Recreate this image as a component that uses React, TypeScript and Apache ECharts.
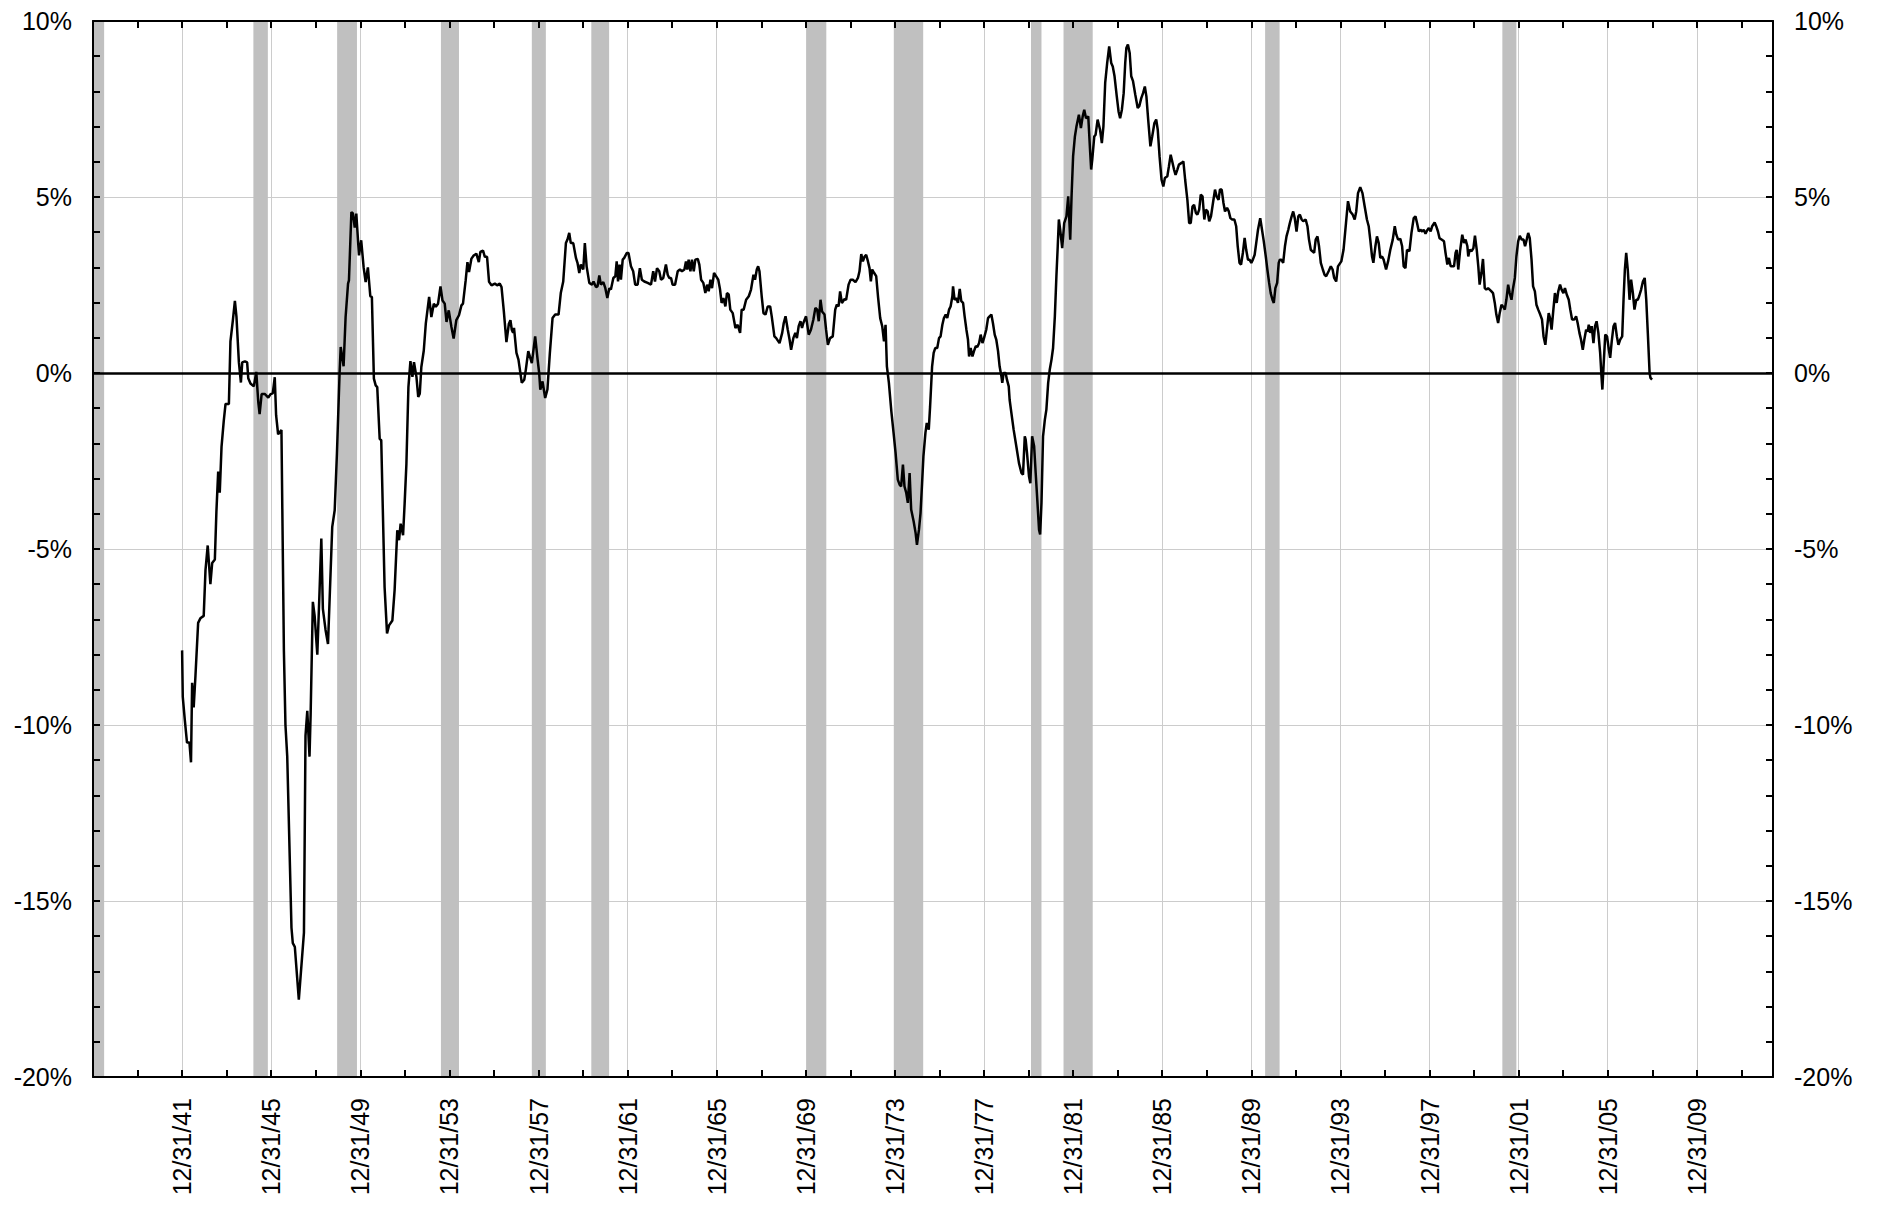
import React, { useEffect, useRef } from "react";
import * as echarts from "echarts";

// Real rate series (percent), [decimal year, value]
const rate1940s: [number, number][] = [
  [1942.0, -7.88], [1942.03, -9.2], [1942.12, -9.85], [1942.22, -10.5], [1942.33, -10.5], [1942.4, -11.06],
  [1942.45, -8.8], [1942.52, -9.5], [1942.6, -8.6], [1942.72, -7.1], [1942.82, -6.97], [1942.97, -6.9],
  [1943.05, -5.6], [1943.15, -4.9], [1943.27, -6.0], [1943.35, -5.4], [1943.47, -5.3], [1943.54, -3.94],
  [1943.62, -2.8], [1943.69, -3.4], [1943.77, -2.1], [1943.87, -1.36], [1943.95, -0.88], [1944.1, -0.88],
  [1944.17, 0.9], [1944.28, 1.5], [1944.37, 2.05], [1944.44, 1.6], [1944.55, 0.3], [1944.64, -0.27],
  [1944.7, 0.3], [1944.82, 0.33], [1944.92, 0.3], [1944.97, -0.15], [1945.07, -0.3], [1945.22, -0.38],
  [1945.33, 0.03], [1945.42, -0.83], [1945.48, -1.17], [1945.57, -0.6], [1945.72, -0.6], [1945.87, -0.7],
  [1945.97, -0.6], [1946.07, -0.58], [1946.16, -0.12], [1946.22, -1.2], [1946.31, -1.74], [1946.46, -1.62],
  [1946.57, -7.9], [1946.64, -10.0], [1946.72, -10.9], [1946.91, -15.76], [1946.97, -16.2], [1947.06, -16.3],
  [1947.24, -17.8], [1947.47, -15.9], [1947.54, -10.3], [1947.62, -9.6], [1947.72, -10.9], [1947.77, -9.7],
  [1947.87, -6.5], [1947.95, -6.9], [1948.07, -8.0], [1948.17, -6.2], [1948.25, -4.7], [1948.32, -6.7],
  [1948.44, -7.3], [1948.55, -7.7], [1948.74, -4.37], [1948.85, -3.9], [1948.95, -2.3], [1949.07, 0],
  [1949.12, 0.74], [1949.25, 0.19], [1949.34, 1.59], [1949.45, 2.54], [1949.49, 2.63], [1949.6, 4.57],
  [1949.67, 4.53], [1949.75, 4.13], [1949.82, 4.53], [1949.94, 3.34],
];

const rate1950s: [number, number][] = [
  [1950.04, 3.77], [1950.15, 3.0], [1950.24, 2.58], [1950.34, 3.0], [1950.45, 2.18], [1950.52, 2.16],
  [1950.61, -0.16], [1950.69, -0.35], [1950.76, -0.4], [1950.87, -1.87], [1950.94, -1.91], [1951.09, -6.08],
  [1951.2, -7.4], [1951.29, -7.17], [1951.44, -7.03], [1951.54, -6.17], [1951.66, -4.47], [1951.74, -4.75],
  [1951.81, -4.28], [1951.92, -4.61], [1951.99, -3.71], [1952.07, -2.58], [1952.16, -0.4], [1952.25, 0.34],
  [1952.34, -0.11], [1952.41, 0.31], [1952.52, -0.11], [1952.6, -0.68], [1952.67, -0.59], [1952.74, 0.17],
  [1952.85, 0.64], [1952.94, 1.4], [1953.09, 2.16], [1953.19, 1.59], [1953.3, 1.97], [1953.39, 1.88],
  [1953.49, 1.97], [1953.6, 2.46], [1953.69, 2.06], [1953.79, 1.97], [1953.87, 1.45], [1953.97, 1.78],
  [1954.09, 1.31], [1954.19, 0.98], [1954.31, 1.5], [1954.43, 1.64], [1954.54, 1.92], [1954.61, 1.97],
  [1954.73, 2.63], [1954.81, 3.15], [1954.88, 2.87], [1954.99, 3.25], [1955.09, 3.34], [1955.21, 3.39],
  [1955.32, 3.15], [1955.39, 3.44], [1955.51, 3.48], [1955.59, 3.3], [1955.69, 3.3], [1955.78, 2.59],
  [1955.89, 2.49], [1956.04, 2.54], [1956.14, 2.49], [1956.26, 2.54], [1956.34, 2.44], [1956.44, 1.78],
  [1956.56, 0.88], [1956.67, 1.4], [1956.74, 1.5], [1956.8, 1.23], [1956.86, 1.14], [1956.9, 1.28],
  [1957.01, 0.57], [1957.1, 0.38], [1957.25, -0.28], [1957.36, -0.19], [1957.43, 0.09], [1957.54, 0.62],
  [1957.61, 0.47], [1957.7, 0.28], [1957.85, 1.04], [1957.96, 0.38], [1958.03, 0], [1958.08, -0.47],
  [1958.18, -0.24], [1958.3, -0.71], [1958.4, -0.47], [1958.51, 0.57], [1958.63, 1.56], [1958.75, 1.66],
  [1958.9, 1.66], [1959.0, 2.27], [1959.11, 2.6], [1959.23, 3.69], [1959.3, 3.79], [1959.38, 3.98],
  [1959.45, 3.69], [1959.56, 3.69], [1959.68, 3.27], [1959.75, 3.13], [1959.83, 2.84], [1959.9, 3.08],
];

const rate1960s: [number, number][] = [
  [1960.01, 2.94], [1960.08, 3.69], [1960.16, 3.03], [1960.28, 2.56], [1960.4, 2.51], [1960.47, 2.6],
  [1960.58, 2.44], [1960.65, 2.46], [1960.73, 2.77], [1960.8, 2.51], [1960.91, 2.58], [1961.0, 2.41],
  [1961.09, 2.13], [1961.18, 2.41], [1961.25, 2.37], [1961.36, 2.7], [1961.45, 2.75], [1961.51, 3.17],
  [1961.57, 2.6], [1961.64, 3.08], [1961.7, 2.65], [1961.78, 3.22], [1961.85, 3.27], [1961.96, 3.41],
  [1962.04, 3.41], [1962.15, 3.03], [1962.25, 2.89], [1962.34, 2.51], [1962.45, 2.51], [1962.55, 2.98],
  [1962.64, 2.65], [1962.75, 2.6], [1962.9, 2.56], [1963.05, 2.51], [1963.15, 2.89], [1963.23, 2.6],
  [1963.32, 2.98], [1963.42, 2.89], [1963.5, 2.65], [1963.6, 2.7], [1963.72, 3.08], [1963.8, 2.79],
  [1963.87, 2.7], [1963.95, 2.7], [1964.02, 2.51], [1964.13, 2.51], [1964.25, 2.89], [1964.35, 2.94],
  [1964.44, 2.89], [1964.55, 2.94], [1964.62, 3.17], [1964.68, 2.94], [1964.74, 3.22], [1964.82, 2.89],
  [1964.89, 3.22], [1964.97, 2.89], [1965.04, 3.22], [1965.15, 3.24], [1965.22, 3.08], [1965.3, 2.65],
  [1965.4, 2.56], [1965.49, 2.27], [1965.57, 2.51], [1965.64, 2.32], [1965.72, 2.65], [1965.79, 2.41],
  [1965.88, 2.84], [1965.97, 2.75], [1966.07, 2.65], [1966.15, 2.37], [1966.22, 1.99], [1966.3, 2.13],
  [1966.39, 1.89], [1966.46, 2.27], [1966.54, 2.23], [1966.61, 1.8], [1966.72, 1.7], [1966.84, 1.28],
  [1966.94, 1.37], [1967.05, 1.14], [1967.12, 1.8], [1967.21, 1.8], [1967.32, 2.08], [1967.44, 2.18],
  [1967.54, 2.37], [1967.65, 2.79], [1967.72, 2.65], [1967.8, 2.94], [1967.86, 3.03], [1967.92, 2.89],
  [1968.02, 2.18], [1968.1, 1.7], [1968.19, 1.66], [1968.29, 1.89], [1968.4, 1.89], [1968.47, 1.61],
  [1968.59, 1.04], [1968.67, 0.99], [1968.82, 0.85], [1968.94, 1.14], [1969.01, 1.42], [1969.09, 1.61],
  [1969.19, 1.23], [1969.27, 0.95], [1969.34, 0.66], [1969.44, 0.99], [1969.53, 1.14], [1969.6, 0.99],
  [1969.68, 1.33], [1969.76, 1.47], [1969.83, 1.28], [1969.89, 1.42],
];

const rate1970s: [number, number][] = [
  [1970.01, 1.61], [1970.13, 1.09], [1970.23, 1.23], [1970.34, 1.52], [1970.43, 1.85], [1970.51, 1.8],
  [1970.58, 1.47], [1970.66, 2.08], [1970.73, 1.75], [1970.84, 1.66], [1970.91, 1.23], [1970.99, 0.8],
  [1971.09, 0.99], [1971.21, 1.04], [1971.32, 1.8], [1971.39, 1.94], [1971.47, 1.89], [1971.54, 2.32],
  [1971.62, 1.99], [1971.74, 2.1], [1971.81, 2.08], [1971.92, 2.51], [1972.01, 2.65], [1972.11, 2.65],
  [1972.23, 2.58], [1972.34, 2.7], [1972.41, 2.89], [1972.49, 3.38], [1972.56, 3.17], [1972.64, 3.31],
  [1972.71, 3.36], [1972.79, 3.17], [1972.86, 2.98], [1972.92, 2.6], [1972.98, 2.94], [1973.07, 2.84],
  [1973.16, 2.75], [1973.24, 2.18], [1973.34, 1.56], [1973.43, 1.33], [1973.51, 0.9], [1973.58, 1.37],
  [1973.64, 0.19], [1973.73, -0.28], [1973.84, -1.09], [1973.94, -1.7], [1974.03, -2.27], [1974.13, -3.03],
  [1974.21, -3.17], [1974.28, -3.22], [1974.36, -2.6], [1974.43, -3.22], [1974.51, -3.41], [1974.58, -3.69],
  [1974.66, -2.84], [1974.73, -3.88], [1974.84, -4.21], [1974.93, -4.55], [1974.99, -4.88], [1975.08, -4.45],
  [1975.15, -3.98], [1975.22, -3.13], [1975.28, -2.37], [1975.37, -1.7], [1975.43, -1.42], [1975.52, -1.61],
  [1975.58, -0.95], [1975.67, 0.19], [1975.74, 0.57], [1975.81, 0.71], [1975.9, 0.71], [1975.98, 0.99],
  [1976.05, 1.04], [1976.13, 1.37], [1976.2, 1.56], [1976.28, 1.66], [1976.35, 1.56], [1976.43, 1.8],
  [1976.5, 1.89], [1976.58, 2.18], [1976.61, 2.46], [1976.68, 2.08], [1976.76, 2.13], [1976.83, 1.99],
  [1976.91, 2.39], [1976.98, 2.04], [1977.06, 1.99], [1977.13, 1.61], [1977.21, 1.23], [1977.28, 0.95],
  [1977.33, 0.47], [1977.4, 0.71], [1977.48, 0.47], [1977.55, 0.62], [1977.63, 0.76], [1977.7, 0.74],
  [1977.78, 0.85], [1977.85, 1.09], [1977.93, 0.85], [1978.0, 0.99], [1978.1, 1.23], [1978.18, 1.56],
  [1978.25, 1.61], [1978.33, 1.66], [1978.4, 1.42], [1978.48, 1.09], [1978.55, 0.95], [1978.63, 0.62],
  [1978.7, 0.19], [1978.78, -0.09], [1978.82, -0.28], [1978.88, 0], [1978.97, 0], [1979.03, -0.19],
  [1979.11, -0.38], [1979.15, -0.76], [1979.23, -1.14], [1979.33, -1.61], [1979.45, -2.08], [1979.57, -2.56],
  [1979.68, -2.84], [1979.75, -2.89], [1979.83, -1.8], [1979.87, -1.89], [1979.93, -2.27],
];

const rate1980s: [number, number][] = [
  [1980.02, -2.94], [1980.08, -3.13], [1980.16, -1.8], [1980.25, -2.08], [1980.32, -2.84], [1980.4, -3.69],
  [1980.47, -4.45], [1980.52, -4.59], [1980.58, -3.69], [1980.65, -1.8], [1980.73, -1.33], [1980.8, -1.04],
  [1980.88, -0.28], [1980.95, 0.09], [1981.03, 0.38], [1981.1, 0.71], [1981.18, 1.61], [1981.25, 2.75],
  [1981.31, 3.6], [1981.36, 4.36], [1981.42, 4.07], [1981.51, 3.55], [1981.6, 4.26], [1981.7, 4.45],
  [1981.78, 5.02], [1981.87, 3.79], [1981.93, 5.02], [1982.0, 6.16], [1982.08, 6.72], [1982.15, 7.0],
  [1982.26, 7.34], [1982.35, 6.96], [1982.43, 7.29], [1982.5, 7.48], [1982.58, 7.24], [1982.68, 7.29],
  [1982.76, 6.34], [1982.81, 5.78], [1982.86, 6.06], [1982.95, 6.72], [1983.01, 6.77], [1983.1, 7.2],
  [1983.21, 6.91], [1983.29, 6.53], [1983.36, 7.0], [1983.44, 8.24], [1983.53, 8.81], [1983.62, 9.28],
  [1983.71, 8.81], [1983.78, 8.71], [1983.86, 8.43], [1983.96, 7.86], [1984.04, 7.43], [1984.11, 7.24],
  [1984.19, 7.48], [1984.27, 7.95], [1984.34, 8.81], [1984.39, 9.23], [1984.46, 9.33], [1984.54, 9.09],
  [1984.61, 8.43], [1984.69, 8.29], [1984.79, 7.91], [1984.9, 7.53], [1984.97, 7.58], [1985.06, 7.81],
  [1985.14, 7.95], [1985.22, 8.14], [1985.29, 7.86], [1985.37, 7.2], [1985.47, 6.44], [1985.55, 6.72],
  [1985.65, 7.1], [1985.73, 7.2], [1985.8, 6.91], [1985.88, 6.16], [1985.97, 5.49], [1986.05, 5.3],
  [1986.12, 5.54], [1986.23, 5.59], [1986.3, 5.87], [1986.38, 6.2], [1986.45, 6.01], [1986.53, 5.78],
  [1986.6, 5.63], [1986.68, 5.78], [1986.75, 5.92], [1986.87, 5.97], [1986.95, 6.01], [1987.03, 5.49],
  [1987.13, 4.92], [1987.21, 4.26], [1987.28, 4.26], [1987.36, 4.73], [1987.43, 4.78], [1987.51, 4.55],
  [1987.58, 4.5], [1987.66, 4.64], [1987.73, 5.07], [1987.81, 5.02], [1987.89, 4.36], [1987.96, 4.64],
  [1988.04, 4.59], [1988.11, 4.31], [1988.19, 4.45], [1988.29, 4.88], [1988.37, 5.21], [1988.44, 5.02],
  [1988.53, 4.92], [1988.59, 5.21], [1988.67, 5.21], [1988.75, 4.83], [1988.82, 4.59], [1988.91, 4.69],
  [1988.99, 4.59], [1989.06, 4.4], [1989.14, 4.36], [1989.24, 4.36], [1989.32, 4.17], [1989.39, 3.6],
  [1989.47, 3.13], [1989.54, 3.08], [1989.62, 3.41], [1989.7, 3.84], [1989.77, 3.5], [1989.85, 3.22],
  [1989.92, 3.22],
];

const rate1990s: [number, number][] = [
  [1990.0, 3.13], [1990.07, 3.22], [1990.15, 3.36], [1990.22, 3.69], [1990.3, 4.07], [1990.4, 4.4],
  [1990.48, 4.07], [1990.56, 3.74], [1990.65, 3.31], [1990.72, 2.94], [1990.8, 2.56], [1990.87, 2.27],
  [1990.95, 2.08], [1991.01, 1.99], [1991.08, 2.41], [1991.16, 2.56], [1991.23, 3.13], [1991.28, 3.22],
  [1991.35, 3.22], [1991.43, 3.13], [1991.51, 3.6], [1991.58, 3.88], [1991.66, 4.07], [1991.73, 4.26],
  [1991.81, 4.45], [1991.88, 4.59], [1991.95, 4.4], [1992.03, 4.02], [1992.11, 4.45], [1992.18, 4.5],
  [1992.26, 4.36], [1992.33, 4.31], [1992.44, 4.36], [1992.52, 4.17], [1992.59, 3.79], [1992.67, 3.5],
  [1992.74, 3.46], [1992.82, 3.41], [1992.89, 3.79], [1992.97, 3.88], [1993.04, 3.6], [1993.12, 3.13],
  [1993.21, 2.94], [1993.29, 2.79], [1993.36, 2.75], [1993.47, 2.89], [1993.57, 3.03], [1993.65, 2.94],
  [1993.72, 2.7], [1993.81, 2.6], [1993.89, 3.03], [1994.04, 3.17], [1994.14, 3.5], [1994.25, 4.26],
  [1994.34, 4.88], [1994.44, 4.59], [1994.55, 4.5], [1994.64, 4.36], [1994.71, 4.59], [1994.79, 5.11],
  [1994.89, 5.28], [1994.99, 5.11], [1995.09, 4.73], [1995.19, 4.36], [1995.27, 4.17], [1995.34, 3.79],
  [1995.42, 3.31], [1995.48, 3.13], [1995.57, 3.6], [1995.64, 3.88], [1995.72, 3.69], [1995.79, 3.27],
  [1995.87, 3.31], [1995.94, 3.22], [1996.05, 2.94], [1996.14, 3.17], [1996.24, 3.5], [1996.35, 3.79],
  [1996.44, 4.17], [1996.51, 3.93], [1996.59, 3.79], [1996.69, 3.81], [1996.77, 3.6], [1996.84, 3.03],
  [1996.92, 2.98], [1996.99, 3.5], [1997.1, 3.46], [1997.19, 3.98], [1997.29, 4.4], [1997.37, 4.45],
  [1997.44, 4.26], [1997.52, 4.02], [1997.59, 4.07], [1997.67, 4.02], [1997.74, 4.07], [1997.82, 3.96],
  [1997.89, 4.05], [1997.97, 4.12], [1998.05, 4.02], [1998.12, 4.17], [1998.23, 4.28], [1998.3, 4.17],
  [1998.38, 4.02], [1998.45, 3.83], [1998.54, 3.79], [1998.65, 3.74], [1998.72, 3.41], [1998.8, 3.08],
  [1998.87, 3.27], [1998.95, 3.03], [1999.02, 3.03], [1999.1, 3.03], [1999.17, 3.41], [1999.22, 3.5],
  [1999.29, 2.94], [1999.37, 3.46], [1999.47, 3.93], [1999.55, 3.69], [1999.62, 3.79], [1999.7, 3.6],
  [1999.74, 3.31], [1999.8, 3.5], [1999.89, 3.46], [1999.97, 3.55],
];

const rate2000s: [number, number][] = [
  [2000.04, 3.9], [2000.12, 3.5], [2000.19, 3.03], [2000.25, 2.51], [2000.33, 2.84], [2000.4, 3.24],
  [2000.48, 2.41], [2000.55, 2.37], [2000.63, 2.41], [2000.7, 2.37], [2000.78, 2.32], [2000.85, 2.27],
  [2000.93, 1.99], [2001.0, 1.66], [2001.08, 1.42], [2001.15, 1.7], [2001.23, 1.94], [2001.3, 1.89],
  [2001.38, 1.8], [2001.45, 2.08], [2001.53, 2.51], [2001.6, 2.27], [2001.68, 2.08], [2001.75, 2.41],
  [2001.83, 2.7], [2001.9, 3.31], [2001.98, 3.74], [2002.05, 3.9], [2002.14, 3.79], [2002.22, 3.79],
  [2002.29, 3.6], [2002.37, 3.81], [2002.43, 3.98], [2002.5, 3.83], [2002.58, 3.22], [2002.65, 2.46],
  [2002.73, 2.32], [2002.8, 1.94], [2002.88, 1.8], [2002.97, 1.66], [2003.05, 1.52], [2003.12, 1.04],
  [2003.2, 0.8], [2003.27, 1.23], [2003.35, 1.7], [2003.41, 1.56], [2003.48, 1.23], [2003.56, 1.8],
  [2003.63, 2.27], [2003.71, 1.99], [2003.78, 2.32], [2003.86, 2.51], [2003.93, 2.37], [2004.01, 2.27],
  [2004.08, 2.41], [2004.16, 2.23], [2004.25, 2.08], [2004.32, 1.8], [2004.4, 1.52], [2004.5, 1.52],
  [2004.58, 1.61], [2004.65, 1.42], [2004.73, 1.14], [2004.8, 0.95], [2004.88, 0.66], [2004.95, 0.95],
  [2005.03, 1.23], [2005.1, 1.18], [2005.15, 1.37], [2005.21, 1.14], [2005.28, 1.33], [2005.36, 0.85],
  [2005.43, 1.33], [2005.5, 1.47], [2005.58, 1.14], [2005.66, 0.57], [2005.72, -0.09], [2005.76, -0.47],
  [2005.82, 0.28], [2005.89, 1.09], [2005.97, 1.04], [2006.05, 0.66], [2006.11, 0.43], [2006.18, 0.9],
  [2006.26, 1.33], [2006.33, 1.42], [2006.41, 1.04], [2006.48, 0.8], [2006.56, 0.95], [2006.65, 1.04],
  [2006.71, 2.08], [2006.77, 2.94], [2006.83, 3.41], [2006.9, 2.94], [2006.98, 2.08], [2007.05, 2.65],
  [2007.13, 2.27], [2007.2, 1.8], [2007.28, 2.08], [2007.35, 2.08], [2007.41, 2.18], [2007.5, 2.37],
  [2007.58, 2.6], [2007.66, 2.7], [2007.73, 2.08], [2007.8, 1.14], [2007.88, 0], [2007.92, -0.14],
  [2007.99, -0.19],
];

// Recession periods (decimal years)
const recessions: [number, number][] = [
  [1938.0, 1938.5], [1945.2, 1945.85], [1948.96, 1949.85], [1953.62, 1954.43], [1957.7, 1958.33],
  [1960.37, 1961.17], [1970.03, 1970.92], [1973.95, 1975.27], [1980.11, 1980.58], [1981.57, 1982.88],
  [1990.62, 1991.27], [2001.27, 2001.9],
];

// Axis settings
const xMin = 1938;
const xMax = 2013.42;
const firstLabelYear = 1942;
const yMin = -20;
const yMax = 10;

const FONT = '"Liberation Sans", Arial, Helvetica, sans-serif';

function xLabel(v: number): string {
  const r = Math.round(v);
  if (Math.abs(v - r) > 1e-6) return "";
  if (r < firstLabelYear) return "";
  if ((r - firstLabelYear) % 4 !== 0) return "";
  const yy = ((r - 1) % 100 + 100) % 100;
  return "12/31/" + String(yy).padStart(2, "0");
}

function yLabel(v: number): string {
  const r = Math.round(v);
  if (Math.abs(v - r) > 1e-6 || r % 5 !== 0) return "";
  return `${r === 0 ? 0 : r}%`;
}

export default function App() {
  const ref = useRef<HTMLDivElement>(null);
  useEffect(() => {
    if (!ref.current) return;
    const chart = echarts.init(ref.current, undefined, { renderer: "svg" });
    const lineData = [...rate1940s, ...rate1950s, ...rate1960s, ...rate1970s, ...rate1980s, ...rate1990s, ...rate2000s];
    const frameAxisCommon = {
      type: "value" as const,
      z: 10,
      axisLine: { show: true, onZero: false, lineStyle: { color: "#000", width: 2 } },
      axisTick: { show: true, inside: true, length: 7, lineStyle: { color: "#000", width: 2 } },
      splitLine: { show: false },
    };
    chart.setOption({
      animation: false,
      backgroundColor: "#fff",
      grid: { left: 93, right: 106, top: 21, bottom: 129, containLabel: false, outerBoundsMode: "none" },
      xAxis: [
        {
          ...frameAxisCommon,
          position: "bottom",
          min: xMin,
          max: xMax,
          interval: 2,
          axisLabel: {
            show: true,
            rotate: 90,
            margin: 21,
            color: "#000",
            fontSize: 25,
            fontFamily: FONT,
            showMaxLabel: false,
            showMinLabel: false,
            formatter: (v: number) => xLabel(v),
          },
        },
        {
          ...frameAxisCommon,
          position: "top",
          min: xMin,
          max: xMax,
          interval: 2,
          axisLabel: { show: false },
        },
        {
          type: "value",
          position: "bottom",
          min: xMin,
          max: xMax,
          interval: 4,
          z: 0,
          axisLine: { show: false },
          axisTick: { show: false },
          axisLabel: { show: false },
          splitLine: { show: true, lineStyle: { color: "#cccccc", width: 1 } },
        },
      ],
      yAxis: [
        {
          ...frameAxisCommon,
          position: "left",
          min: yMin,
          max: yMax,
          interval: 1,
          axisLabel: { show: true, margin: 21, color: "#000", fontSize: 25, fontFamily: FONT, formatter: (v: number) => yLabel(v) },
        },
        {
          ...frameAxisCommon,
          position: "right",
          min: yMin,
          max: yMax,
          interval: 1,
          axisLabel: { show: true, margin: 21, color: "#000", fontSize: 25, fontFamily: FONT, formatter: (v: number) => yLabel(v) },
        },
        {
          type: "value",
          position: "left",
          min: yMin,
          max: yMax,
          interval: 5,
          z: 0,
          axisLine: { show: false },
          axisTick: { show: false },
          axisLabel: { show: false },
          splitLine: { show: true, lineStyle: { color: "#cccccc", width: 1 } },
        },
      ],
      series: [
        {
          name: "recessions",
          type: "line",
          xAxisIndex: 0,
          yAxisIndex: 0,
          data: [],
          z: 1,
          silent: true,
          markArea: {
            silent: true,
            z: 1,
            itemStyle: { color: "#c0c0c0", opacity: 1 },
            data: recessions.map(([a, b]) => [{ xAxis: a }, { xAxis: b }]),
          },
        },
        {
          name: "real rate",
          type: "line",
          xAxisIndex: 0,
          yAxisIndex: 0,
          data: lineData,
          showSymbol: false,
          symbol: "none",
          z: 3,
          lineStyle: { color: "#000", width: 2.5 },
          markLine: {
            silent: true,
            symbol: "none",
            z: 5,
            label: { show: false },
            lineStyle: { color: "#000", width: 2.5, type: "solid" },
            data: [{ yAxis: 0 }],
          },
        },
      ],
    });
    return () => chart.dispose();
  }, []);
  return <div ref={ref} style={{ position: "absolute", left: 0, top: 0, width: 1879, height: 1206 }} />;
}
